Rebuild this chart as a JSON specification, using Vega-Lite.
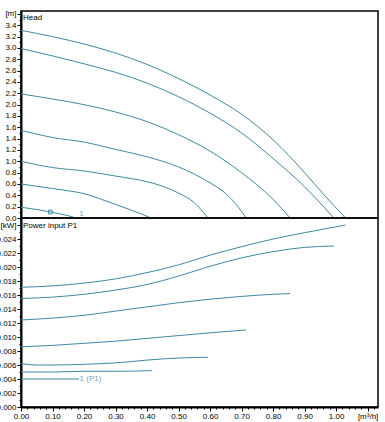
{
  "$schema": "https://vega.github.io/schema/vega-lite/v6.json",
  "padding": {"left": -5, "top": 9, "right": 6, "bottom": 4},
  "spacing": 0,
  "bounds": "flush",
  "config": {
    "font": "Liberation Sans",
    "view": {"stroke": "#000", "strokeWidth": 1.5},
    "axis": {"labelFontSize": 8, "labelColor": "#000", "tickColor": "#000", "domainColor": "#000", "domainWidth": 2, "grid": false, "labelPadding": 1, "tickWidth": 1, "labelFlush": false, "title": null},
    "line": {"strokeWidth": 1, "interpolate": "monotone", "color": "#3f88a5"}
  },
  "datasets": {
    "head": [
      {"curve": "A", "q": 0, "h": 3.31}, {"curve": "A", "q": 0.1, "h": 3.2}, {"curve": "A", "q": 0.2, "h": 3.07}, {"curve": "A", "q": 0.3, "h": 2.91}, {"curve": "A", "q": 0.4, "h": 2.71}, {"curve": "A", "q": 0.5, "h": 2.46}, {"curve": "A", "q": 0.6, "h": 2.17}, {"curve": "A", "q": 0.7, "h": 1.83}, {"curve": "A", "q": 0.8, "h": 1.38}, {"curve": "A", "q": 0.9, "h": 0.8}, {"curve": "A", "q": 0.96, "h": 0.42}, {"curve": "A", "q": 1.03, "h": 0},
      {"curve": "B", "q": 0, "h": 2.99}, {"curve": "B", "q": 0.1, "h": 2.86}, {"curve": "B", "q": 0.2, "h": 2.72}, {"curve": "B", "q": 0.3, "h": 2.57}, {"curve": "B", "q": 0.4, "h": 2.38}, {"curve": "B", "q": 0.5, "h": 2.14}, {"curve": "B", "q": 0.6, "h": 1.85}, {"curve": "B", "q": 0.7, "h": 1.5}, {"curve": "B", "q": 0.8, "h": 1.05}, {"curve": "B", "q": 0.9, "h": 0.55}, {"curve": "B", "q": 0.993, "h": 0},
      {"curve": "C", "q": 0, "h": 2.19}, {"curve": "C", "q": 0.1, "h": 2.1}, {"curve": "C", "q": 0.2, "h": 2.0}, {"curve": "C", "q": 0.3, "h": 1.87}, {"curve": "C", "q": 0.4, "h": 1.7}, {"curve": "C", "q": 0.5, "h": 1.47}, {"curve": "C", "q": 0.6, "h": 1.18}, {"curve": "C", "q": 0.7, "h": 0.8}, {"curve": "C", "q": 0.8, "h": 0.33}, {"curve": "C", "q": 0.854, "h": 0},
      {"curve": "D", "q": 0, "h": 1.545}, {"curve": "D", "q": 0.05, "h": 1.48}, {"curve": "D", "q": 0.1, "h": 1.42}, {"curve": "D", "q": 0.2, "h": 1.34}, {"curve": "D", "q": 0.3, "h": 1.21}, {"curve": "D", "q": 0.4, "h": 1.08}, {"curve": "D", "q": 0.5, "h": 0.9}, {"curve": "D", "q": 0.6, "h": 0.62}, {"curve": "D", "q": 0.65, "h": 0.43}, {"curve": "D", "q": 0.69, "h": 0.19}, {"curve": "D", "q": 0.714, "h": 0},
      {"curve": "E", "q": 0, "h": 1.0}, {"curve": "E", "q": 0.05, "h": 0.94}, {"curve": "E", "q": 0.1, "h": 0.89}, {"curve": "E", "q": 0.2, "h": 0.83}, {"curve": "E", "q": 0.3, "h": 0.74}, {"curve": "E", "q": 0.4, "h": 0.64}, {"curve": "E", "q": 0.45, "h": 0.56}, {"curve": "E", "q": 0.5, "h": 0.44}, {"curve": "E", "q": 0.55, "h": 0.27}, {"curve": "E", "q": 0.593, "h": 0},
      {"curve": "F", "q": 0, "h": 0.6}, {"curve": "F", "q": 0.05, "h": 0.56}, {"curve": "F", "q": 0.1, "h": 0.52}, {"curve": "F", "q": 0.15, "h": 0.48}, {"curve": "F", "q": 0.2, "h": 0.43}, {"curve": "F", "q": 0.25, "h": 0.34}, {"curve": "F", "q": 0.3, "h": 0.24}, {"curve": "F", "q": 0.35, "h": 0.14}, {"curve": "F", "q": 0.413, "h": 0},
      {"curve": "G", "q": 0, "h": 0.19}, {"curve": "G", "q": 0.05, "h": 0.15}, {"curve": "G", "q": 0.1, "h": 0.1}, {"curve": "G", "q": 0.15, "h": 0.04}, {"curve": "G", "q": 0.175, "h": 0}
    ],
    "headmarker": [{"q": 0.093, "h": 0.105}],
    "headlabel": [{"q": 0.185, "h": 0.075, "label": "1"}],
    "power": [
      {"curve": "A", "q": 0, "p": 0.0171}, {"curve": "A", "q": 0.1, "p": 0.0173}, {"curve": "A", "q": 0.2, "p": 0.0177}, {"curve": "A", "q": 0.3, "p": 0.0183}, {"curve": "A", "q": 0.4, "p": 0.0192}, {"curve": "A", "q": 0.5, "p": 0.0203}, {"curve": "A", "q": 0.6, "p": 0.0217}, {"curve": "A", "q": 0.7, "p": 0.0229}, {"curve": "A", "q": 0.8, "p": 0.024}, {"curve": "A", "q": 0.9, "p": 0.0249}, {"curve": "A", "q": 1.03, "p": 0.026},
      {"curve": "B", "q": 0, "p": 0.0155}, {"curve": "B", "q": 0.1, "p": 0.0157}, {"curve": "B", "q": 0.2, "p": 0.0161}, {"curve": "B", "q": 0.3, "p": 0.0167}, {"curve": "B", "q": 0.4, "p": 0.0175}, {"curve": "B", "q": 0.5, "p": 0.0187}, {"curve": "B", "q": 0.6, "p": 0.0201}, {"curve": "B", "q": 0.7, "p": 0.0213}, {"curve": "B", "q": 0.8, "p": 0.0222}, {"curve": "B", "q": 0.9, "p": 0.0228}, {"curve": "B", "q": 0.993, "p": 0.023},
      {"curve": "C", "q": 0, "p": 0.01243}, {"curve": "C", "q": 0.1, "p": 0.0127}, {"curve": "C", "q": 0.2, "p": 0.0131}, {"curve": "C", "q": 0.3, "p": 0.0137}, {"curve": "C", "q": 0.4, "p": 0.0143}, {"curve": "C", "q": 0.5, "p": 0.0149}, {"curve": "C", "q": 0.6, "p": 0.0154}, {"curve": "C", "q": 0.7, "p": 0.0158}, {"curve": "C", "q": 0.8, "p": 0.0161}, {"curve": "C", "q": 0.854, "p": 0.0162},
      {"curve": "D", "q": 0, "p": 0.0086}, {"curve": "D", "q": 0.1, "p": 0.0088}, {"curve": "D", "q": 0.2, "p": 0.0091}, {"curve": "D", "q": 0.3, "p": 0.0094}, {"curve": "D", "q": 0.4, "p": 0.0098}, {"curve": "D", "q": 0.5, "p": 0.0102}, {"curve": "D", "q": 0.6, "p": 0.0106}, {"curve": "D", "q": 0.714, "p": 0.011},
      {"curve": "E", "q": 0, "p": 0.0062}, {"curve": "E", "q": 0.05, "p": 0.006}, {"curve": "E", "q": 0.1, "p": 0.006}, {"curve": "E", "q": 0.2, "p": 0.0061}, {"curve": "E", "q": 0.3, "p": 0.0063}, {"curve": "E", "q": 0.4, "p": 0.0067}, {"curve": "E", "q": 0.5, "p": 0.007}, {"curve": "E", "q": 0.593, "p": 0.0071},
      {"curve": "F", "q": 0, "p": 0.005}, {"curve": "F", "q": 0.1, "p": 0.005}, {"curve": "F", "q": 0.2, "p": 0.0051}, {"curve": "F", "q": 0.3, "p": 0.0051}, {"curve": "F", "q": 0.415, "p": 0.0052},
      {"curve": "G", "q": 0, "p": 0.004}, {"curve": "G", "q": 0.184, "p": 0.004}
    ],
    "powerlabel": [{"q": 0.186, "p": 0.004, "label": "1 (P1)"}]
  },
  "vconcat": [
    {
      "width": 357,
      "height": 207,
      "title": {"text": "Head", "anchor": "start", "frame": "group", "offset": -12, "dx": 2, "fontSize": 8, "fontWeight": "normal", "font": "Liberation Sans", "color": "#000"},
      "resolve": {"axis": {"y": "independent"}},
      "layer": [
        {
          "data": {"name": "head"},
          "mark": {"type": "line"},
          "encoding": {
            "x": {"field": "q", "type": "quantitative", "scale": {"domain": [0, 1.133], "nice": false}, "axis": null},
            "y": {"field": "h", "type": "quantitative", "scale": {"domain": [0, 3.652], "nice": false},
              "axis": {"title": null, "orient": "left", "tickSize": 4,
                "values": [0,0.2,0.4,0.6,0.8,1.0,1.2,1.4,1.6,1.8,2.0,2.2,2.4,2.6,2.8,3.0,3.2,3.4,3.6],
                "labelExpr": "abs(datum.value-3.6)<0.001 ? '[m]' : format(datum.value,'.1f')"}},
            "detail": {"field": "curve"},
            "order": {"field": "q"}
          }
        },
        {
          "data": {"name": "headmarker"},
          "mark": {"type": "point", "shape": "square", "filled": false, "size": 14, "color": "#3f88a5", "strokeWidth": 1, "opacity": 1},
          "encoding": {
            "x": {"field": "q", "type": "quantitative"},
            "y": {"field": "h", "type": "quantitative",
              "axis": {"title": null, "orient": "left", "labels": false, "domain": false, "tickSize": 2,
                "values": [0.1,0.3,0.5,0.7,0.9,1.1,1.3,1.5,1.7,1.9,2.1,2.3,2.5,2.7,2.9,3.1,3.3,3.5]}}
          }
        },
        {
          "data": {"name": "headlabel"},
          "mark": {"type": "text", "align": "left", "baseline": "middle", "fontSize": 8, "color": "#6aa6c0"},
          "encoding": {
            "x": {"field": "q", "type": "quantitative"},
            "y": {"field": "h", "type": "quantitative", "axis": null},
            "text": {"field": "label"}
          }
        }
      ]
    },
    {
      "width": 357,
      "height": 189,
      "title": {"text": "Power input P1", "anchor": "start", "frame": "group", "offset": -12, "dx": 2, "fontSize": 8, "fontWeight": "normal", "font": "Liberation Sans", "color": "#000"},
      "resolve": {"axis": {"x": "independent", "y": "independent"}},
      "layer": [
        {
          "data": {"name": "power"},
          "mark": {"type": "line"},
          "encoding": {
            "x": {"field": "q", "type": "quantitative", "scale": {"domain": [0, 1.133], "nice": false},
              "axis": {"title": null, "orient": "bottom", "tickSize": 4,
                "values": [0,0.1,0.2,0.3,0.4,0.5,0.6,0.7,0.8,0.9,1.0,1.1],
                "labelExpr": "abs(datum.value-1.1)<0.001 ? '[m³/h]' : format(datum.value,'.2f')"}},
            "y": {"field": "p", "type": "quantitative", "scale": {"domain": [0, 0.027], "nice": false},
              "axis": {"title": null, "orient": "left", "tickSize": 4,
                "values": [0,0.002,0.004,0.006,0.008,0.01,0.012,0.014,0.016,0.018,0.02,0.022,0.024,0.026],
                "labelExpr": "abs(datum.value-0.026)<0.00001 ? '[kW]' : format(datum.value,'.3f')"}},
            "detail": {"field": "curve"},
            "order": {"field": "q"}
          }
        },
        {
          "data": {"name": "powerlabel"},
          "mark": {"type": "text", "align": "left", "baseline": "middle", "fontSize": 8, "color": "#6aa6c0"},
          "encoding": {
            "x": {"field": "q", "type": "quantitative",
              "axis": {"title": null, "orient": "bottom", "labels": false, "domain": false, "tickSize": 2,
                "values": [0.02,0.04,0.06,0.08,0.12,0.14,0.16,0.18,0.22,0.24,0.26,0.28,0.32,0.34,0.36,0.38,0.42,0.44,0.46,0.48,0.52,0.54,0.56,0.58,0.62,0.64,0.66,0.68,0.72,0.74,0.76,0.78,0.82,0.84,0.86,0.88,0.92,0.94,0.96,0.98,1.02,1.04,1.06,1.08,1.12]}},
            "y": {"field": "p", "type": "quantitative",
              "axis": {"title": null, "orient": "left", "labels": false, "domain": false, "tickSize": 2,
                "values": [0.001,0.003,0.005,0.007,0.009,0.011,0.013,0.015,0.017,0.019,0.021,0.023,0.025]}},
            "text": {"field": "label"}
          }
        }
      ]
    }
  ]
}
